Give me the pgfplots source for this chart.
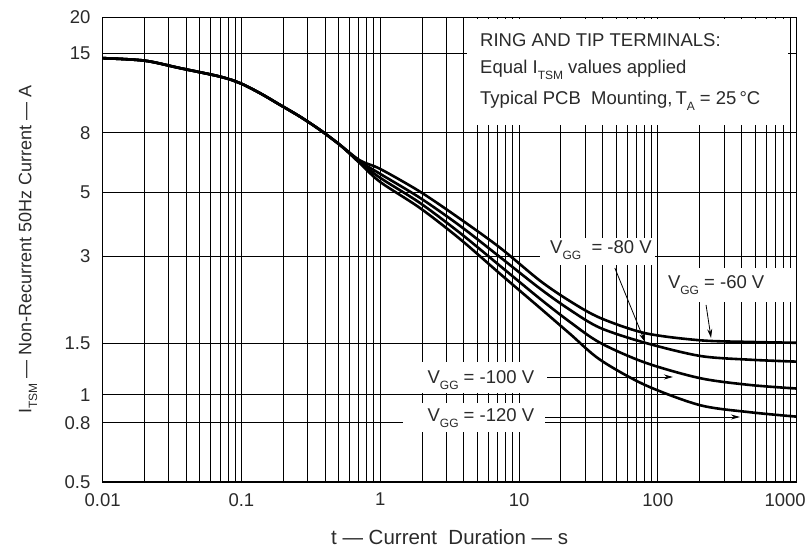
\documentclass[border=0pt]{standalone}
\usepackage{fontspec}
\setmainfont{Liberation Sans}
\usepackage{pgfplots}
\pgfplotsset{compat=1.18}
\usetikzlibrary{arrows.meta}
\newcommand{\sub}[1]{\raisebox{-0.32em}{\fontsize{12}{12}\selectfont #1}}
\definecolor{txt}{HTML}{2A2A2A}

\begin{document}
\fontsize{18.5}{22}\selectfont
\begin{tikzpicture}
\useasboundingbox (-102.6pt,-68pt) rectangle (705.4pt,482pt);
\begin{axis}[
  at={(0pt,0pt)}, anchor=south west,
  scale only axis, width=694.1pt, height=464.7pt,
  xmode=log, ymode=log,
  xmin=0.01, xmax=1000, ymin=0.5, ymax=20,
  xtick={0.01,0.1,1,10,100,1000},
  xticklabels={0.01,0.1,1,10,100,1000\hspace*{23pt}},
  ytick={0.5,0.8,1,1.5,3,5,8,15,20},
  yticklabels={0.5,0.8,1,1.5,3,5,8,15,20},
  yminorticks=false,
  xmajorgrids, xminorgrids, ymajorgrids,
  grid style={black, line width=0.8pt},
  minor grid style={black, line width=0.8pt},
  major tick length=0pt, minor tick length=0pt,
  axis line style={black, line width=1.1pt},
  xticklabel style={inner sep=0pt, anchor=north, yshift=-11pt, text=txt, font=\fontsize{18.5}{22}\selectfont},
  yticklabel style={inner sep=0pt, anchor=east, xshift=-12pt, text=txt, font=\fontsize{18.5}{22}\selectfont},
  xlabel={t — Current\ \ Duration — s},
  ylabel={I\sub{TSM} — Non-Recurrent 50Hz Current — A},
  every axis x label/.style={at={(rel axis cs:0.5,-0.1194)}, anchor=center, text=txt, font=\fontsize{20.5}{24}\selectfont},
  every axis y label/.style={at={(rel axis cs:-0.1075,0.5)}, rotate=90, anchor=center, text=txt, font=\fontsize{18}{22}\selectfont},
  clip=true,
]
% white annotation backgrounds
\fill[white] (rel axis cs:0.525,0.768) rectangle (rel axis cs:0.987,0.9963);
\fill[white] (rel axis cs:0.630,0.467) rectangle (rel axis cs:0.7959,0.525);
\fill[white] (rel axis cs:0.807,0.3873) rectangle (rel axis cs:0.993,0.4605);
\fill[white] (rel axis cs:0.4573,0.1915) rectangle (rel axis cs:0.633,0.2582);
\fill[white] (rel axis cs:0.4326,0.1076) rectangle (rel axis cs:0.6374,0.17);

% VGG = -60 V
\addplot[black, line width=2.6pt, smooth, tension=0.5] table {
0.01 14.46
0.02 14.18
0.0361 13.36
0.0701 12.49
0.0977 11.86
0.1362 10.95
0.1897 9.98
0.2644 9.09
0.3684 8.18
0.513 7.26
0.715 6.42
1.0 6.00
1.935 5.01
3.757 4.04
7.30 3.21
14.17 2.47
23.3 2.10
38.33 1.84
80.86 1.63
201.4 1.54
461 1.52
1000 1.51
};
% VGG = -80 V
\addplot[black, line width=2.6pt, smooth, tension=0.5] table {
0.01 14.46
0.02 14.18
0.0361 13.36
0.0701 12.49
0.0977 11.86
0.1362 10.95
0.1897 9.98
0.2644 9.09
0.3684 8.18
0.513 7.26
0.715 6.37
1.0 5.77
1.935 4.77
3.757 3.82
7.30 2.98
14.17 2.32
23.3 1.96
38.33 1.70
80.86 1.51
201.4 1.36
461 1.32
1000 1.30
};
% VGG = -100 V
\addplot[black, line width=2.6pt, smooth, tension=0.5] table {
0.01 14.46
0.02 14.18
0.0361 13.36
0.0701 12.49
0.0977 11.86
0.1362 10.95
0.1897 9.98
0.2644 9.09
0.3684 8.18
0.513 7.26
0.715 6.32
1.0 5.59
1.935 4.58
3.757 3.61
7.30 2.78
14.17 2.14
23.3 1.78
38.33 1.51
80.86 1.29
201.4 1.14
461 1.08
1000 1.05
};
% VGG = -120 V
\addplot[black, line width=2.6pt, smooth, tension=0.5] table {
0.01 14.46
0.02 14.18
0.0361 13.36
0.0701 12.49
0.0977 11.86
0.1362 10.95
0.1897 9.98
0.2644 9.09
0.3684 8.18
0.513 7.26
0.715 6.27
1.0 5.41
1.935 4.40
3.757 3.44
7.30 2.61
14.17 1.99
23.3 1.62
38.33 1.32
80.86 1.08
201.4 0.92
461 0.87
1000 0.84
};

% annotation text
\node[anchor=base west, inner sep=0pt, text=txt] at (rel axis cs:0.5437,0.9382) {RING AND TIP TERMINALS:};
\node[anchor=base west, inner sep=0pt, text=txt] at (rel axis cs:0.5437,0.878) {Equal I\sub{TSM} values applied};
\node[anchor=base west, inner sep=0pt, text=txt] at (rel axis cs:0.5437,0.8113) {Typical PCB\ \ Mounting,\,T\sub{A} = 25\,°C};

\node[inner sep=0pt, text=txt] at (rel axis cs:0.718,0.499) {V\sub{GG}\ \ = -80 V};
\node[inner sep=0pt, text=txt] at (rel axis cs:0.884,0.424) {V\sub{GG} = -60 V};
\node[inner sep=0pt, text=txt] at (rel axis cs:0.545,0.2195) {V\sub{GG} = -100 V};
\node[inner sep=0pt, text=txt] at (rel axis cs:0.545,0.1377) {V\sub{GG} = -120 V};

% arrows
\draw[line width=0.8pt, -{Stealth[length=9pt,width=5pt]}] (rel axis cs:0.738,0.4605) -- (rel axis cs:0.7815,0.301);
\draw[line width=0.8pt, -{Stealth[length=9pt,width=5pt]}] (rel axis cs:0.8694,0.381) -- (rel axis cs:0.8766,0.31);
\draw[line width=0.8pt, -{Stealth[length=9pt,width=5pt]}] (rel axis cs:0.6403,0.226) -- (rel axis cs:0.8217,0.226);
\draw[line width=0.8pt, -{Stealth[length=9pt,width=5pt]}] (rel axis cs:0.6374,0.1399) -- (rel axis cs:0.9183,0.1399);
\end{axis}
\end{tikzpicture}
\end{document}
